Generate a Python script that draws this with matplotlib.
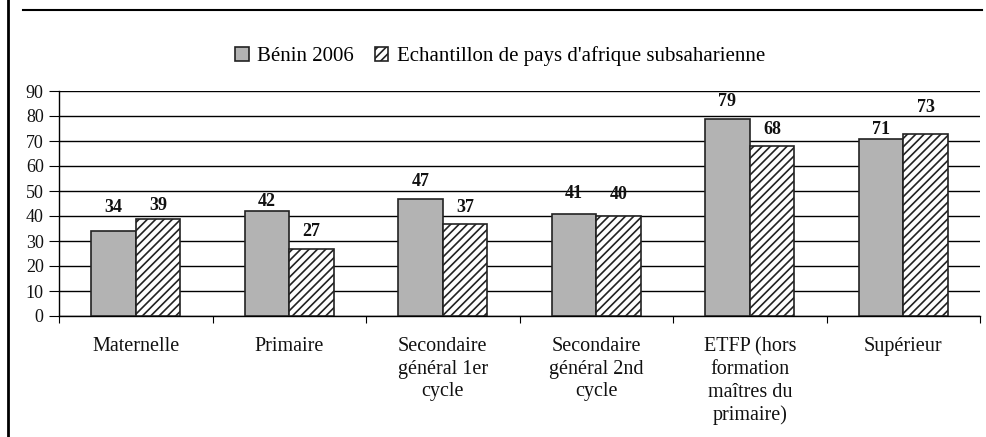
import matplotlib.pyplot as plt
import numpy as np
from matplotlib.lines import Line2D

categories = ['Maternelle', 'Primaire', 'Secondaire\ngénéral 1er\ncycle',
              'Secondaire\ngénéral 2nd\ncycle',
              'ETFP (hors\nformation\nmaîtres du\nprimaire)', 'Supérieur']
benin = [34, 42, 47, 41, 79, 71]
afrique = [39, 27, 37, 40, 68, 73]
series_names = ['Bénin 2006', "Echantillon de pays d'afrique subsaharienne"]

# gap (pixels) between bar top and its value label, as placed in the original
gap_benin = [19, 5, 12, 16, 12, 4]
gap_afrique = [9, 13, 12, 17, 12, 21]

plt.rcParams['font.family'] = ['Liberation Serif', 'DejaVu Serif']
plt.rcParams['hatch.linewidth'] = 1.2
plt.rcParams['hatch.color'] = '#333333'

fig = plt.figure(figsize=(9.86, 4.37), dpi=100)
ax = fig.add_axes([59 / 986, 1 - 316 / 437, 921 / 986, 225 / 437])

x = np.arange(len(categories))
w = 0.29
b1 = ax.bar(x - w / 2, benin, w, color='#b3b3b3', edgecolor='#222222',
            linewidth=1.2, label=series_names[0], zorder=3)
b2 = ax.bar(x + w / 2, afrique, w, color='white', edgecolor='#222222',
            linewidth=1.2, hatch='////', label=series_names[1], zorder=3)

for bars, gaps in ((b1, gap_benin), (b2, gap_afrique)):
    for r, g in zip(bars, gaps):
        ax.annotate(str(int(r.get_height())),
                    (r.get_x() + r.get_width() / 2, r.get_height()),
                    xytext=(0, g), textcoords='offset pixels',
                    ha='center', va='baseline', fontsize=13,
                    fontweight='bold', color='#111111')

ax.set_xlim(-0.5, len(categories) - 0.5)
ax.set_ylim(0, 90)
ax.set_yticks(range(0, 91, 10))
ax.yaxis.grid(True, color='black', linewidth=1.0, zorder=0)
ax.set_xticks(np.arange(-0.5, len(categories), 1.0))
ax.set_xticklabels([])
ax.set_xticks(x, minor=True)
ax.set_xticklabels(categories, minor=True, fontsize=14.5, linespacing=1.27,
                   va='top', color='#111111')
ax.tick_params(axis='x', which='minor', length=0, pad=15)
ax.tick_params(axis='x', which='major', length=5, direction='out')
ax.tick_params(axis='y', length=7, labelsize=13, pad=4, labelcolor='#111111')
for s in ['top', 'right']:
    ax.spines[s].set_visible(False)
ax.spines['left'].set_linewidth(1.0)
ax.spines['bottom'].set_linewidth(1.0)

ax.legend(loc='center', bbox_to_anchor=(500 / 986, 1 - 56 / 437),
          bbox_transform=fig.transFigure, ncol=2, frameon=False,
          fontsize=15, handlelength=0.65, handleheight=0.65,
          handletextpad=0.4, columnspacing=1.0)

# outer frame pieces
fig.add_artist(Line2D([8 / 986, 8 / 986], [0, 1], color='black',
                      linewidth=2.0, transform=fig.transFigure))
fig.add_artist(Line2D([23 / 986, 982 / 986], [1 - 9.5 / 437, 1 - 9.5 / 437],
                      color='black', linewidth=1.5,
                      transform=fig.transFigure))

fig.savefig('out.png', dpi=100)
